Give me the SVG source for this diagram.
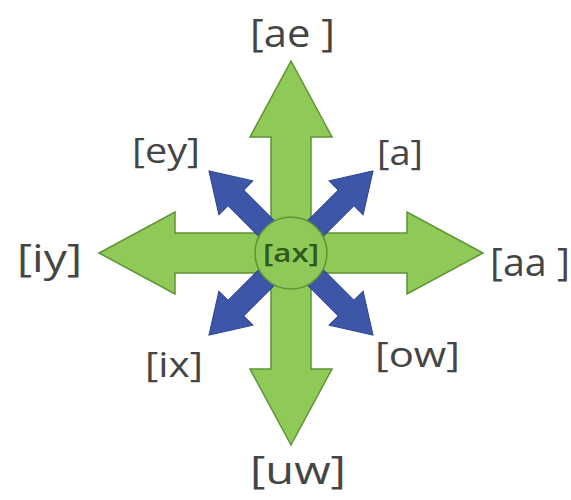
<svg xmlns="http://www.w3.org/2000/svg" width="571" height="500" viewBox="0 0 571 500">
<style>
.g{fill:#8fc957;stroke:#5e9336;stroke-width:1.5;stroke-linejoin:miter}
.b{fill:#3d56a8;stroke:#2c4190;stroke-width:1}
.t{font-family:"Open Sans","Liberation Sans",sans-serif;fill:#454545;font-size:39px}
.s{font-size:35px}
.c{font-family:"Open Sans","Liberation Sans",sans-serif;fill:#2f5a1c;font-size:25px;font-weight:600}
</style>
<defs>
<polygon id="ga" points="0,-20 116,-20 116,-41 192,0 116,41 116,20 0,20"/>
<polygon id="ba" points="0,-11 78,-11 78,-24 116,0 78,24 78,11 0,11"/>
</defs>
<rect width="571" height="500" fill="#ffffff"/>
<g id="connectors">
<use href="#ga" class="g" transform="translate(291,253) rotate(-90)"/>
<use href="#ga" class="g" transform="translate(291,253) rotate(90)"/>
<use href="#ga" class="g" transform="translate(291,253) rotate(180)"/>
<use href="#ga" class="g" transform="translate(291,253)"/>
<use href="#ba" class="b" transform="translate(291,253) rotate(-135)"/>
<use href="#ba" class="b" transform="translate(291,253) rotate(-45)"/>
<use href="#ba" class="b" transform="translate(291,253) rotate(135)"/>
<use href="#ba" class="b" transform="translate(291,253) rotate(45)"/>
</g>
<g id="ax">
<circle cx="291" cy="253" r="36" class="g"/>
<text class="c" x="263" y="262" textLength="56" lengthAdjust="spacingAndGlyphs">[ax]</text>
</g>
<g id="ae"><text class="t" x="250" y="47" textLength="85" lengthAdjust="spacingAndGlyphs">[ae ]</text></g>
<g id="uw"><text class="t" x="250" y="484" textLength="96" lengthAdjust="spacingAndGlyphs">[uw]</text></g>
<g id="iy"><text class="t" x="17" y="272" textLength="65" lengthAdjust="spacingAndGlyphs">[iy]</text></g>
<g id="aa"><text class="t" x="490" y="276" textLength="80" lengthAdjust="spacingAndGlyphs">[aa ]</text></g>
<g id="ey"><text class="t s" x="132" y="163" textLength="68" lengthAdjust="spacingAndGlyphs">[ey]</text></g>
<g id="a"><text class="t s" x="377" y="165" textLength="46" lengthAdjust="spacingAndGlyphs">[a]</text></g>
<g id="ix"><text class="t s" x="145" y="377" textLength="58" lengthAdjust="spacingAndGlyphs">[ix]</text></g>
<g id="ow"><text class="t s" x="375" y="367" textLength="85" lengthAdjust="spacingAndGlyphs">[ow]</text></g>
</svg>
